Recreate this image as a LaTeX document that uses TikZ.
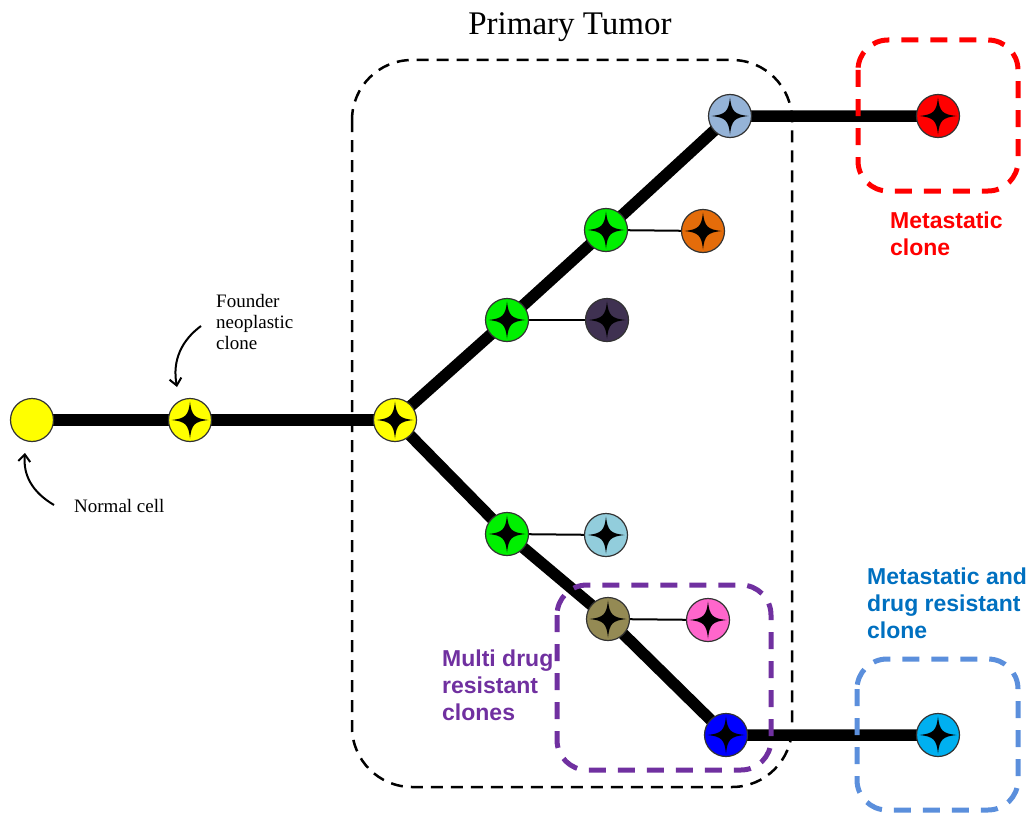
\documentclass[tikz,border=0pt]{standalone}
\usepackage{fontspec}
\setmainfont{Liberation Serif}
\newfontfamily\boldsans{Liberation Sans}[BoldFont={Liberation Sans Bold}]
\usetikzlibrary{arrows.meta}
\definecolor{cyellow}{HTML}{FFFF00}
\definecolor{cgray}{HTML}{95B3D7}
\definecolor{cgreen}{HTML}{00F000}
\definecolor{corange}{HTML}{E46C0A}
\definecolor{cdpurple}{HTML}{3F3151}
\definecolor{clblue}{HTML}{92CDDC}
\definecolor{colive}{HTML}{948A54}
\definecolor{cpink}{HTML}{FF66CC}
\definecolor{cblue}{HTML}{0000FF}
\definecolor{ccyan}{HTML}{00B0F0}
\definecolor{cred}{HTML}{FF0000}
\definecolor{boxred}{HTML}{FF0000}
\definecolor{boxpurple}{HTML}{7030A0}
\definecolor{boxblue}{HTML}{5B8FDC}
\definecolor{txtblue}{HTML}{0070C0}
\begin{document}
\begin{tikzpicture}[x=1pt,y=-1pt,
  cellbase/.style={circle, draw=black!80, line width=1.2pt, minimum size=43pt, inner sep=0pt},
  cell/.style={cellbase, path picture={
     \fill[black, shift={(path picture bounding box.center)}]
       (0,-18.5) .. controls (1.5,-4.5) and (4.5,-1.5) .. (18.5,0)
               .. controls (4.5,1.5) and (1.5,4.5) .. (0,18.5)
               .. controls (-1.5,4.5) and (-4.5,1.5) .. (-18.5,0)
               .. controls (-4.5,-1.5) and (-1.5,-4.5) .. cycle;}},
  trunk/.style={line width=11.5pt, black},
  twig/.style={line width=2pt, black},
  tumorbox/.style={draw=black, line width=2.5pt, dash pattern=on 12pt off 8pt, rounded corners=60pt},
  clonebox/.style={line width=5pt, dash pattern=on 17pt off 12pt, rounded corners=30pt},
  serlbl/.style={font=\fontsize{19}{21}\selectfont, align=left, inner sep=0pt},
  sanslbl/.style={font=\boldsans\bfseries\fontsize{23}{27}\selectfont, align=left, inner sep=0pt},
  note/.style={line width=2pt, -{Straight Barb[length=7pt,width=12pt]}}
]
\useasboundingbox (0,0) rectangle (1031,816);

% coordinates of the cells
\coordinate (pN) at (32,420);
\coordinate (pF) at (190,420);
\coordinate (pB) at (395,420);
\coordinate (pG1) at (507,320);
\coordinate (pDP) at (607,320);
\coordinate (pG2) at (606,230);
\coordinate (pO) at (703,231);
\coordinate (pGB) at (730,116);
\coordinate (pR) at (938,116);
\coordinate (pG3) at (507,534);
\coordinate (pLB) at (606,535);
\coordinate (pOl) at (608,619);
\coordinate (pP) at (708,620);
\coordinate (pBl) at (726,735);
\coordinate (pC) at (938,735);

% tumor box
\draw[tumorbox] (352,60) rectangle (792,787);

% lines
\draw[trunk] (pN) -- (pF) -- (pB);
\draw[trunk] (pB) -- (pG1) -- (pG2) -- (pGB) -- (pR);
\draw[trunk] (pB) -- (pG3) -- (pOl) -- (pBl) -- (pC);
\draw[twig] (pG1) -- (pDP);
\draw[twig] (pG2) -- (pO);
\draw[twig] (pG3) -- (pLB);
\draw[twig] (pOl) -- (pP);

% clone boxes
\draw[clonebox, draw=boxred] (858,40) rectangle (1018,191);
\draw[clonebox, draw=boxblue] (857,659) rectangle (1018,810);
\draw[clonebox, draw=boxpurple] (557,585) rectangle (771,770);

% cells
\node[cellbase, fill=cyellow] (normal) at (pN) {};
\node[cell, fill=cyellow] (founder) at (pF) {};
\node[cell, fill=cyellow] (branch) at (pB) {};
\node[cell, fill=cgreen] (g1) at (pG1) {};
\node[cell, fill=cdpurple] (dp) at (pDP) {};
\node[cell, fill=cgreen] (g2) at (pG2) {};
\node[cell, fill=corange] (or) at (pO) {};
\node[cell, fill=cgray] (gb) at (pGB) {};
\node[cell, fill=cred] (red) at (pR) {};
\node[cell, fill=cgreen] (g3) at (pG3) {};
\node[cell, fill=clblue] (lb) at (pLB) {};
\node[cell, fill=colive] (ol) at (pOl) {};
\node[cell, fill=cpink] (pk) at (pP) {};
\node[cell, fill=cblue] (bl) at (pBl) {};
\node[cell, fill=ccyan] (cy) at (pC) {};

% labels (base anchor = baseline of last line)
\node[anchor=base, font=\fontsize{33}{38}\selectfont, inner sep=0pt] (ptlbl) at (570,35) {Primary Tumor};
\node[serlbl, anchor=base west] (foundlbl) at (216,349) {Founder\\neoplastic\\clone};
\node[serlbl, anchor=base west] (normlbl) at (74,512) {Normal cell};
\node[sanslbl, anchor=base west, text=boxred] (metlbl) at (890,255) {Metastatic\\clone};
\node[sanslbl, anchor=base west, text=txtblue] (mdrlbl) at (867,638) {Metastatic and\\drug resistant\\clone};
\node[sanslbl, anchor=base west, text=boxpurple] (multlbl) at (442,720) {Multi drug\\resistant\\clones};

% annotation arrows
\coordinate (fa) at (201,326);
\coordinate (fb) at (177,387);
\draw[note] (fa) .. controls (182,340) and (172,360) .. (fb);
\coordinate (na) at (54,505);
\coordinate (nb) at (25,453);
\draw[note] (na) .. controls (32,492) and (23,475) .. (nb);
\end{tikzpicture}
\end{document}
